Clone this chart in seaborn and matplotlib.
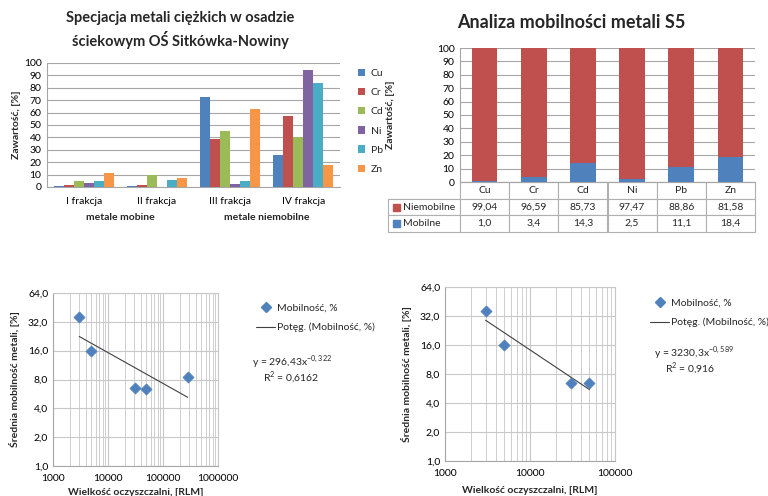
import numpy as np
import pandas as pd
import matplotlib
matplotlib.use('Agg')
import matplotlib.pyplot as plt
import seaborn as sns
from matplotlib.ticker import FixedLocator, LogLocator, NullFormatter, FuncFormatter
from matplotlib.lines import Line2D
from matplotlib.patches import Rectangle

# ---------------- data ----------------
fractions = ['I frakcja', 'II frakcja', 'III frakcja', 'IV frakcja']
metals = ['Cu', 'Cr', 'Cd', 'Ni', 'Pb', 'Zn']
cu = [1.0, 0.5, 72.5, 26.0]
cr = [2.0, 1.5, 39.0, 57.0]
cd = [4.5, 9.5, 45.0, 40.0]
ni = [3.0, 0.0, 2.5, 94.5]
pb = [5.0, 6.0, 5.0, 83.5]
zn = [11.0, 7.0, 63.0, 18.0]
group_labels = ['metale mobine', 'metale niemobilne']

niemobilne = [99.04, 96.59, 85.73, 97.47, 88.86, 81.58]
mobilne = [1.0, 3.4, 14.3, 2.5, 11.1, 18.4]

rlm_a = [3000, 5000, 31000, 50000, 280000]
mob_a = [36.0, 16.0, 6.5, 6.4, 8.4]
fit_a = (296.43, -0.322)
r2_a = 0.6162

rlm_b = [3000, 5000, 30000, 50000]
mob_b = [36.0, 16.0, 6.5, 6.4]
fit_b = (3230.3, -0.589)
r2_b = 0.916

y_ticks_log = [1, 2, 4, 8, 16, 32, 64]

# ---------------- style ----------------
sns.set_style('white')
plt.rcParams['font.family'] = ['Lato', 'DejaVu Sans']
plt.rcParams['axes.unicode_minus'] = False

W, H = 768, 496
fig = plt.figure(figsize=(W / 100, H / 100), dpi=100)
fig.patch.set_facecolor('white')

def px_axes(x0, y0, x1, y1):
    return fig.add_axes([x0 / W, 1 - y1 / H, (x1 - x0) / W, (y1 - y0) / H])

GRID = '#A6A6A6'
LGRID = '#C8C8C8'
FS = 7.5
metal_colors = ['#4F81BD', '#C0504D', '#9BBB59', '#8064A2', '#4BACC6', '#F79646']
RED, BLUE = '#C0504D', '#4F81BD'

def comma(v, fmt):
    return format(v, fmt).replace('.', ',')

# ---------------- chart 1: grouped bars ----------------
ax1 = px_axes(47, 63, 340, 187)
series = [cu, cr, cd, ni, pb, zn]
df1 = pd.DataFrame({
    'frakcja': [f for s in series for f in fractions],
    'metal': [m for m, s in zip(metals, series) for _ in s],
    'val': [v for s in series for v in s],
})
sns.barplot(data=df1, x='frakcja', y='val', hue='metal', order=fractions,
            hue_order=metals, palette=metal_colors, width=0.82, ax=ax1,
            saturation=1, edgecolor='none', zorder=3)
ax1.set_ylim(0, 100)
ax1.set_yticks(range(0, 101, 10))
ax1.yaxis.grid(True, color=GRID, lw=0.8, zorder=0)
ax1.set_axisbelow(True)
for s in ['top', 'right']:
    ax1.spines[s].set_visible(False)
for s in ['left', 'bottom']:
    ax1.spines[s].set_color(GRID)
ax1.tick_params(axis='both', length=0, labelsize=FS, colors='black')
ax1.tick_params(axis='x', pad=7)
ax1.tick_params(axis='y', pad=4)
ax1.set_xlabel('')
ax1.set_ylabel('Zawartość, [%]', fontsize=FS, fontweight='bold', labelpad=2)
h, l = ax1.get_legend_handles_labels()
ax1.legend(h, l, loc='upper left', bbox_to_anchor=(1.03, 1.03), frameon=False,
           handlelength=0.7, handleheight=0.7, handletextpad=0.5,
           labelspacing=0.95, fontsize=FS)
for i, g in enumerate(group_labels):
    ax1.annotate(g, xy=(2 * i + 0.5, -0.245), xycoords=('data', 'axes fraction'),
                 ha='center', va='center', fontsize=FS, fontweight='bold')
fig.text(180 / W, 1 - 30 / H, 'Specjacja metali ciężkich w osadzie\nściekowym OŚ Sitkówka-Nowiny',
         ha='center', va='center', fontsize=10.5, fontweight='bold', linespacing=1.35)

# ---------------- chart 2: stacked bars + data table ----------------
ax2 = px_axes(460, 48, 755, 182)
total = [a + b for a, b in zip(niemobilne, mobilne)]
sns.barplot(x=metals, y=total, color=RED, width=0.52, ax=ax2, saturation=1,
            edgecolor='none', zorder=3)
sns.barplot(x=metals, y=mobilne, color=BLUE, width=0.52, ax=ax2, saturation=1,
            edgecolor='none', zorder=4)
ax2.set_ylim(0, 100)
ax2.set_xlim(-0.5, 5.5)
ax2.set_yticks(range(0, 101, 10))
ax2.yaxis.grid(True, color=GRID, lw=0.8, zorder=0)
ax2.set_axisbelow(True)
for s in ['top', 'right']:
    ax2.spines[s].set_visible(False)
for s in ['left', 'bottom']:
    ax2.spines[s].set_color(GRID)
ax2.tick_params(axis='both', length=0, labelsize=FS, colors='black')
ax2.tick_params(axis='y', pad=4)
ax2.set_xticklabels([])
ax2.set_ylabel('Zawartość, [%]', fontsize=FS, fontweight='bold', labelpad=30)

rl = 72 / 295
th = 50 / 134
cell_text = [[''] + [comma(v, '.2f') for v in niemobilne],
             [''] + [comma(v, '.1f') for v in mobilne]]
tbl = ax2.table(cellText=cell_text, colLabels=[''] + metals,
                colWidths=[rl] + [1 / 6] * 6, bbox=[-rl, -th, 1 + rl, th],
                cellLoc='center')
tbl.auto_set_font_size(False)
tbl.set_fontsize(FS)
for (r, c), cell in tbl.get_celld().items():
    cell.set_edgecolor('#B0B0B0')
    cell.set_linewidth(0.8)
    if r == 0 and c == 0:
        cell.visible_edges = 'B'
row_names = ['Niemobilne', 'Mobilne']
row_cols = [RED, BLUE]
for i, (nm, colr) in enumerate(zip(row_names, row_cols)):
    yc = -th * (1.5 + i) / 3
    ax2.add_patch(Rectangle((-rl + 5 / 295, yc - 3.5 / 134), 7 / 295, 7 / 134,
                            transform=ax2.transAxes, color=colr, clip_on=False))
    ax2.text(-rl + 15 / 295, yc, nm, transform=ax2.transAxes, ha='left',
             va='center', fontsize=FS)
fig.text(571 / W, 1 - 22 / H, 'Analiza mobilności metali S5', ha='center',
         va='center', fontsize=13, fontweight='bold')

# ---------------- chart 3 & 4: log-log scatter with power trend ----------------
def scatter_panel(box, x, y, fit, r2, xmax, leg_xy, eq_xy, xlabel_y):
    ax = px_axes(*box)
    ax.set_xscale('log')
    ax.set_yscale('log', base=2)
    sns.scatterplot(x=x, y=y, marker='D', s=32, color=BLUE, edgecolor=BLUE,
                    linewidth=0.5, ax=ax, zorder=4)
    A, b = fit
    xs = np.geomspace(min(x), max(x), 50)
    sns.lineplot(x=xs, y=A * xs ** b, color='#404040', lw=0.8, ax=ax, zorder=3)
    ax.set_xlim(1000, xmax)
    ax.set_ylim(1, 64)
    ax.yaxis.set_major_locator(FixedLocator(y_ticks_log))
    ax.yaxis.set_minor_locator(FixedLocator([]))
    ax.yaxis.set_major_formatter(FuncFormatter(lambda v, p: comma(v, '.1f')))
    ax.xaxis.set_major_locator(LogLocator(base=10))
    ax.xaxis.set_minor_locator(LogLocator(base=10, subs=np.arange(2, 10)))
    ax.xaxis.set_minor_formatter(NullFormatter())
    ax.xaxis.set_major_formatter(FuncFormatter(lambda v, p: f'{int(round(v))}'))
    ax.grid(True, which='major', color=LGRID, lw=0.8)
    ax.grid(True, which='minor', axis='x', color=LGRID, lw=0.6)
    ax.set_axisbelow(True)
    for s in ax.spines.values():
        s.set_color(LGRID)
    ax.spines['left'].set_color(GRID)
    ax.spines['bottom'].set_color(GRID)
    ax.tick_params(axis='both', which='both', length=0, labelsize=FS, colors='black')
    ax.tick_params(axis='x', pad=6)
    ax.set_ylabel('Średnia mobilność metali, [%]', fontsize=FS, fontweight='bold', labelpad=6)
    ax.set_xlabel('Wielkość oczyszczalni, [RLM]', fontsize=FS, fontweight='bold')
    ax.xaxis.set_label_coords(0.5, (box[3] - xlabel_y) / (box[3] - box[1]))
    handles = [Line2D([], [], marker='D', color=BLUE, ls='none', markersize=5),
               Line2D([], [], color='#404040', lw=0.8)]
    fig.legend(handles, ['Mobilność, %', 'Potęg. (Mobilność, %)'], loc='upper left',
               bbox_to_anchor=(leg_xy[0] / W, 1 - leg_xy[1] / H), frameon=False,
               fontsize=FS, labelspacing=1.0, handlelength=1.8, handletextpad=0.2,
               borderpad=0)
    eq = 'y = ' + comma(A, 'g') + 'x$^{\\mathregular{' + comma(b, 'g') + '}}$'
    fig.text(eq_xy[0] / W, 1 - eq_xy[1] / H, eq, fontsize=FS, va='center', ha='left')
    fig.text((eq_xy[0] + 11) / W, 1 - (eq_xy[1] + 15) / H,
             'R$^{\\mathregular{2}}$ = ' + comma(r2, 'g'), fontsize=FS, va='center', ha='left')
    return ax

scatter_panel((53, 293, 218, 466), rlm_a, mob_a, fit_a, r2_a, 1e6,
              (251, 298), (252, 362), 488)
scatter_panel((445, 287, 615, 461), rlm_b, mob_b, fit_b, r2_b, 1e5,
              (645, 293), (654, 353), 486)

fig.savefig('out.png', dpi=100, facecolor='white')
